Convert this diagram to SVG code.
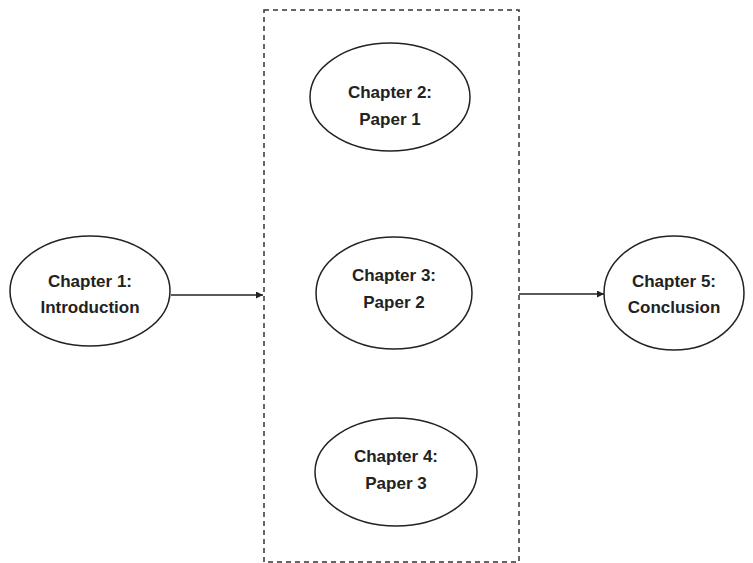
<svg xmlns="http://www.w3.org/2000/svg" width="753" height="563" viewBox="0 0 753 563">
<style>
.node ellipse{fill:#fff;stroke:#222;stroke-width:1.5}
.node text{font-family:"Liberation Sans",Arial,sans-serif;font-weight:bold;font-size:17px;fill:#222;text-anchor:middle}
.conn line{stroke:#222;stroke-width:1.3}
.box{fill:none;stroke:#333;stroke-width:1.5;stroke-dasharray:5,4}
</style>
<defs>
<marker id="ah" viewBox="0 0 10 10" refX="10" refY="5" markerWidth="7" markerHeight="7" orient="auto" markerUnits="userSpaceOnUse">
<path d="M0,0 L10,5 L0,10 z" fill="#222"/>
</marker>
</defs>
<rect width="753" height="563" fill="#fff"/>
<rect id="group-box" class="box" x="264" y="10" width="255" height="552"/>
<g id="connectors" class="conn">
<line x1="171" y1="295" x2="263" y2="295" marker-end="url(#ah)"/>
<line x1="519" y1="294" x2="604" y2="294" marker-end="url(#ah)"/>
</g>
<g id="ch1" class="node">
<ellipse cx="90" cy="291" rx="80" ry="55"/>
<text x="90" y="287">Chapter 1:</text>
<text x="90" y="313">Introduction</text>
</g>
<g id="ch2" class="node">
<ellipse cx="390" cy="97" rx="80" ry="54"/>
<text x="390" y="98">Chapter 2:</text>
<text x="390" y="125">Paper 1</text>
</g>
<g id="ch3" class="node">
<ellipse cx="394" cy="293" rx="78" ry="56"/>
<text x="394" y="281">Chapter 3:</text>
<text x="394" y="308">Paper 2</text>
</g>
<g id="ch4" class="node">
<ellipse cx="396" cy="472" rx="81" ry="54"/>
<text x="396" y="462">Chapter 4:</text>
<text x="396" y="489">Paper 3</text>
</g>
<g id="ch5" class="node">
<ellipse cx="674" cy="293" rx="70" ry="57"/>
<text x="674" y="287">Chapter 5:</text>
<text x="674" y="313">Conclusion</text>
</g>
</svg>
